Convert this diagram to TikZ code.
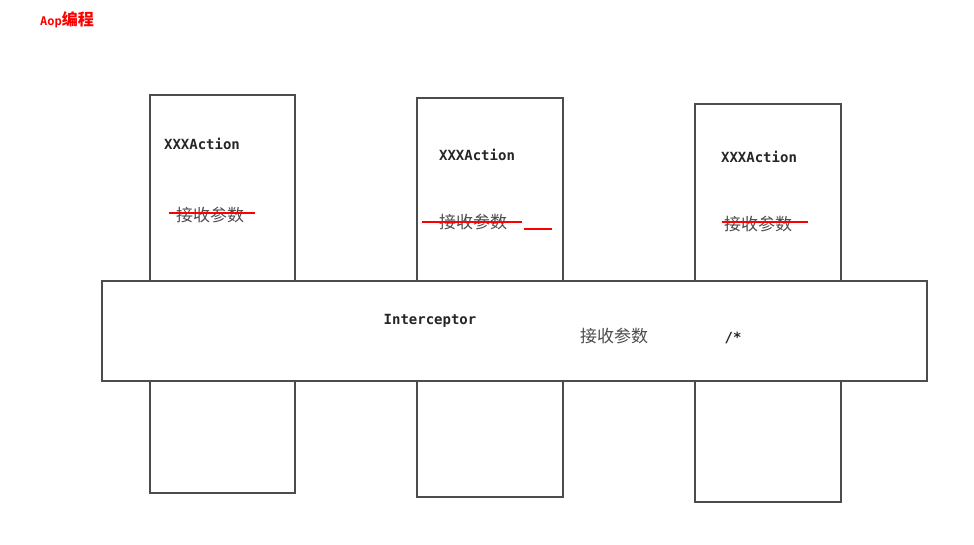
\documentclass[tikz,border=0pt]{standalone}
\usepackage{fontspec}
\setmonofont{DejaVu Sans Mono}
\newfontfamily\cjk{Noto Sans CJK SC}

\tikzset{
  actbox/.style={draw=black!70, line width=1.2pt, rectangle, inner sep=0pt},
  code/.style={font=\ttfamily\bfseries\fontsize{14}{16}\selectfont, inner sep=0pt, text=black!85},
  cntext/.style={font=\cjk\fontsize{17}{19}\selectfont, inner sep=0pt, text=black!70},
  strike/.style={red, line width=1.1pt}
}

\begin{document}
\begin{tikzpicture}[x=1pt, y=-1pt]
  \useasboundingbox (0,0) rectangle (974,544);

  \node[red, inner sep=0pt] (title) at (67,20)
    {\ttfamily\bfseries\fontsize{12}{14}\selectfont Aop\cjk\fontsize{16}{18}\selectfont 编程};

  \node[actbox, minimum width=145pt, minimum height=398pt] (act1) at (222.5,294) {};
  \node[actbox, minimum width=146pt, minimum height=399pt] (act2) at (490,297.5) {};
  \node[actbox, minimum width=146pt, minimum height=398pt] (act3) at (768,303) {};

  \node[code] (name1) at (202,144) {XXXAction};
  \node[code] (name2) at (477,155) {XXXAction};
  \node[code] (name3) at (759,157) {XXXAction};

  \node[cntext] (rcv1) at (210,215) {接收参数};
  \node[cntext] (rcv2) at (473,222) {接收参数};
  \node[cntext] (rcv3) at (758,224) {接收参数};

  \draw[strike] ([xshift=-7pt, yshift=2pt]rcv1.west) -- ([xshift=11pt, yshift=2pt]rcv1.east);
  \draw[strike] ([xshift=-17pt]rcv2.west) -- ([xshift=15pt]rcv2.east);
  \coordinate (dash2) at (524,229);
  \draw[strike] (dash2) -- ++(28,0);
  \draw[strike] ([xshift=-2pt, yshift=2pt]rcv3.west) -- ([xshift=16pt, yshift=2pt]rcv3.east);

  \node[actbox, fill=white, minimum width=825pt, minimum height=100pt] (icpt) at (514.5,331) {};
  \node[code] (icptname) at (430,321) {Interceptor};
  \node[cntext] (icptrcv) at (614,336) {接收参数};
  \node[code] (pattern) at (733,338) {/*};
\end{tikzpicture}
\end{document}
